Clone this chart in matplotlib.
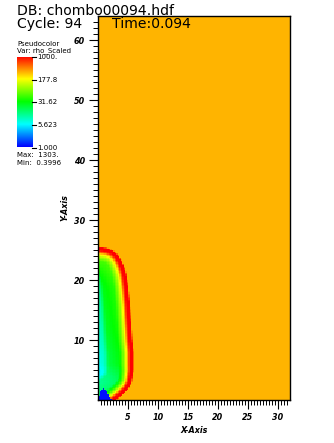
import numpy as np
import matplotlib
matplotlib.use("Agg")
import matplotlib.pyplot as plt
from matplotlib.colors import LinearSegmentedColormap
from matplotlib.path import Path

# bubble outline (outer red edge): x, y in axis units
edge_x = [2.3, 3.6, 4.6, 5.2, 5.5, 5.5, 5.3, 5.1, 4.9, 4.6, 4.3, 4.0, 3.6, 3.0, 2.3, 1.4, 0.0]
edge_y = [0.0, 1.0, 2.0, 3.0, 5.0, 8.0, 10.0, 13.0, 16.0, 19.0, 21.0, 22.0, 23.0, 24.0, 24.6, 25.0, 25.2]

# log10(rho) against signed distance to the edge (negative = inside)
dist_pts = [-6.0, -4.5, -3.8, -2.0, -1.3, -0.8, -0.4, -0.1, 0.25, 0.45]
logv_pts = [0.85, 1.05, 1.45, 1.6, 1.95, 2.3, 2.8, 3.05, 3.05, 2.47]

# height dependent shift of the core
shift_y = [0.0, 3.0, 6.0, 12.0, 19.0, 22.0, 26.0]
shift_v = [-0.45, -0.4, -0.15, -0.05, 0.0, 0.1, 0.1]

# blue tip at the origin
tip_x = [0.0, 0.2, 0.9, 1.4, 2.2]
tip_y = [0.0, 1.2, 2.0, 1.4, 0.0]

cb_ticks = [1.0, 5.623, 31.62, 177.8, 1000.0]
cb_labels = ["1.000", "5.623", "31.62", "177.8", "1000."]

xmax, ymax = 32, 64
cell = 0.25

vis_cmap = LinearSegmentedColormap.from_list(
    "visit_hot", [(0, 0, 1), (0, 1, 1), (0, 1, 0), (1, 1, 0), (1, 0, 0)])

xe = np.arange(0, xmax + cell, cell)
ye = np.arange(0, ymax + cell, cell)
xc = 0.5 * (xe[:-1] + xe[1:])
yc = 0.5 * (ye[:-1] + ye[1:])
X, Y = np.meshgrid(xc, yc)
pts = np.column_stack([X.ravel(), Y.ravel()])

# distance from every cell to the outline
px = np.array(edge_x)
py = np.array(edge_y)
dmin = np.full(X.shape, np.inf)
for i in range(len(px) - 1):
    ax_, ay_ = px[i], py[i]
    bx, by = px[i + 1], py[i + 1]
    vx, vy = bx - ax_, by - ay_
    t = ((X - ax_) * vx + (Y - ay_) * vy) / (vx * vx + vy * vy)
    t = np.clip(t, 0, 1)
    dd = np.hypot(X - (ax_ + t * vx), Y - (ay_ + t * vy))
    dmin = np.minimum(dmin, dd)

poly = np.column_stack([np.r_[px, 0.0], np.r_[py, 0.0]])
inside = Path(poly).contains_points(pts).reshape(X.shape)
d = np.where(inside, -dmin, dmin)

logv = np.interp(d, dist_pts, logv_pts)
logv = logv + np.interp(Y, shift_y, shift_v) * np.clip(-d / 2.0, 0, 1)
tip = Path(np.column_stack([tip_x, tip_y])).contains_points(pts).reshape(X.shape)
logv[tip] = 0.05

W, H = 334, 443
fig = plt.figure(figsize=(W / 100, H / 100), dpi=100)
ax = fig.add_axes([98 / W, (H - 400) / H, 192 / W, 384 / H])
ax.pcolormesh(xe, ye, logv, cmap=vis_cmap, vmin=0, vmax=3, shading="flat")
ax.set_xlim(0, xmax)
ax.set_ylim(0, ymax)

tick_font = dict(family="DejaVu Sans", size=5.8, weight="bold", style="italic")
ax.set_xticks([5, 10, 15, 20, 25, 30])
ax.set_xticks(np.arange(0.5, 32, 0.5), minor=True)
ax.set_yticks([10, 20, 30, 40, 50, 60])
ax.set_yticks(np.arange(1, 64, 1), minor=True)
ax.tick_params(which="major", length=6.5, width=0.8, pad=3)
ax.tick_params(which="minor", length=3.5, width=0.7)
for lab in ax.get_xticklabels() + ax.get_yticklabels():
    lab.set_fontproperties(tick_font)
for s in ax.spines.values():
    s.set_linewidth(1.0)
ax.set_xlabel("X-Axis", fontdict=tick_font, labelpad=3)
ax.set_ylabel("Y-Axis", fontdict=tick_font, labelpad=3)

# header texts
big = dict(family="DejaVu Sans", size=10.1)
fig.text(17 / W, 1 - 11 / H, "DB: chombo00094.hdf", va="center", ha="left", **big)
fig.text(17 / W, 1 - 24 / H, "Cycle: 94", va="center", ha="left", **big)
fig.text(112 / W, 1 - 24 / H, "Time:0.094", va="center", ha="left", **big)

# legend
small = dict(family="DejaVu Sans", size=5.0)
fig.text(17 / W, 1 - 44.5 / H, "Pseudocolor", va="center", ha="left", **small)
fig.text(17 / W, 1 - 51 / H, "Var: rho_Scaled", va="center", ha="left", **small)
cax = fig.add_axes([17 / W, (H - 147.5) / H, 20 / W, 90.5 / H])
grad = np.linspace(0, 3, 256).reshape(-1, 1)
cax.imshow(grad, cmap=vis_cmap, aspect="auto", origin="lower", extent=[0, 1, 0, 3])
cax.set_xticks([])
cax.set_yticks([])
for s in cax.spines.values():
    s.set_visible(False)
for v, lab in zip(cb_ticks, cb_labels):
    yy = np.log10(v)
    cax.plot([1.0, 1.25], [yy, yy], color="black", lw=0.8, clip_on=False)
    cax.text(1.35, yy, lab, va="center", ha="left", **small)
fig.text(17 / W, 1 - 155 / H, "Max:  1303.", va="center", ha="left", **small)
fig.text(17 / W, 1 - 163 / H, "Min:  0.3996", va="center", ha="left", **small)

fig.savefig("out.png", dpi=100)
